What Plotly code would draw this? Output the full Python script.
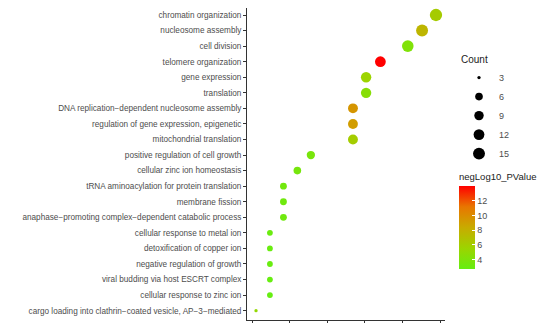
import plotly.graph_objects as go

# GO terms, bottom to top as they appear on the y axis
terms = [
    "cargo loading into clathrin−coated vesicle, AP−3−mediated",
    "cellular response to zinc ion",
    "viral budding via host ESCRT complex",
    "negative regulation of growth",
    "detoxification of copper ion",
    "cellular response to metal ion",
    "anaphase−promoting complex−dependent catabolic process",
    "membrane fission",
    "tRNA aminoacylation for protein translation",
    "cellular zinc ion homeostasis",
    "positive regulation of cell growth",
    "mitochondrial translation",
    "regulation of gene expression, epigenetic",
    "DNA replication−dependent nucleosome assembly",
    "translation",
    "gene expression",
    "telomere organization",
    "cell division",
    "nucleosome assembly",
    "chromatin organization",
]
gene_ratio = [0.0110, 0.0147, 0.0147, 0.0147, 0.0147, 0.0147, 0.0183, 0.0183, 0.0183, 0.0220,
              0.0256, 0.0368, 0.0368, 0.0368, 0.0403, 0.0403, 0.0441, 0.0514, 0.0552, 0.0589]
counts = [3, 4, 4, 4, 4, 4, 5, 5, 5, 6, 7, 10, 10, 10, 11, 11, 12, 14, 15, 16]
neg_log10_p = [5.0, 2.65, 2.7, 2.8, 2.8, 2.9, 3.2, 3.2, 3.3, 3.5,
               3.6, 6.0, 9.1, 9.5, 4.4, 5.5, 14.0, 4.0, 7.6, 6.1]

size_breaks = [3, 6, 9, 12, 15]
color_ticks = [4, 6, 8, 10, 12]

# green -> red gradient similar to the ggplot one
colorscale = [[0.0, "#66ee11"], [0.25, "#9cd400"], [0.5, "#c8ab00"], [0.75, "#e87600"], [1.0, "#ff0000"]]

cmin, cmax = min(counts), max(counts)


def dot_size(c):
    # area-style size scale, range 1..6 like scale_size()
    t = (c - cmin) / (cmax - cmin)
    return (1 + 5 * t ** 0.5) * 1.8 + 1.5


font = "Liberation Sans, Arial, sans-serif"
grey = "#4d4d4d"

fig = go.Figure()
fig.add_trace(go.Scatter(
    x=gene_ratio, y=terms, mode="markers", showlegend=False,
    marker=dict(
        size=[dot_size(c) for c in counts],
        color=neg_log10_p, colorscale=colorscale,
        cmin=min(neg_log10_p), cmax=max(neg_log10_p),
        line=dict(width=0), opacity=1,
        colorbar=dict(
            title=dict(text="negLog10_PValue", side="top", font=dict(size=9.5, color="#222", family=font)),
            lenmode="pixels", len=99, thickness=16, thicknessmode="pixels",
            x=1.0707, xanchor="left", xpad=0,
            y=0.321, yanchor="middle", ypad=0,
            tickvals=color_ticks, ticks="inside", ticklen=3, tickcolor="white",
            tickfont=dict(size=9, color=grey, family=font),
            outlinewidth=0,
        ),
    ),
))

for b in size_breaks:
    fig.add_trace(go.Scatter(
        x=[None], y=[None], mode="markers", name=str(b),
        marker=dict(size=dot_size(b), color="black", line=dict(width=0)),
    ))

# the page body adds an 8px margin, so the figure is 8px smaller each way
fig.update_layout(
    width=544, height=315,
    margin=dict(l=239, r=107, t=0, b=3, autoexpand=False),
    paper_bgcolor="white", plot_bgcolor="white",
    font=dict(family=font, size=8, color=grey),
    legend=dict(
        title=dict(text="Count", font=dict(size=10, color="#222", family=font)),
        x=1.0707, xanchor="left", y=0.865, yanchor="top",
        font=dict(size=9, color=grey, family=font),
        itemsizing="trace", tracegroupgap=0, bgcolor="rgba(0,0,0,0)",
    ),
)
fig.update_xaxes(
    range=[0.0086, 0.0613], tick0=0, dtick=0.01, showticklabels=False,
    showgrid=False, zeroline=False, showline=True, linecolor="#333", linewidth=1,
    ticks="outside", ticklen=3, tickcolor="#333", automargin=False,
)
fig.update_yaxes(
    categoryorder="array", categoryarray=terms, range=[-0.6, len(terms) - 0.55],
    showgrid=False, zeroline=False, showline=True, linecolor="#333", linewidth=1,
    ticks="outside", ticklen=3, tickcolor="#333", automargin=False,
    tickfont=dict(size=8.2, color=grey, family=font),
)

fig.write_html("out.html")
